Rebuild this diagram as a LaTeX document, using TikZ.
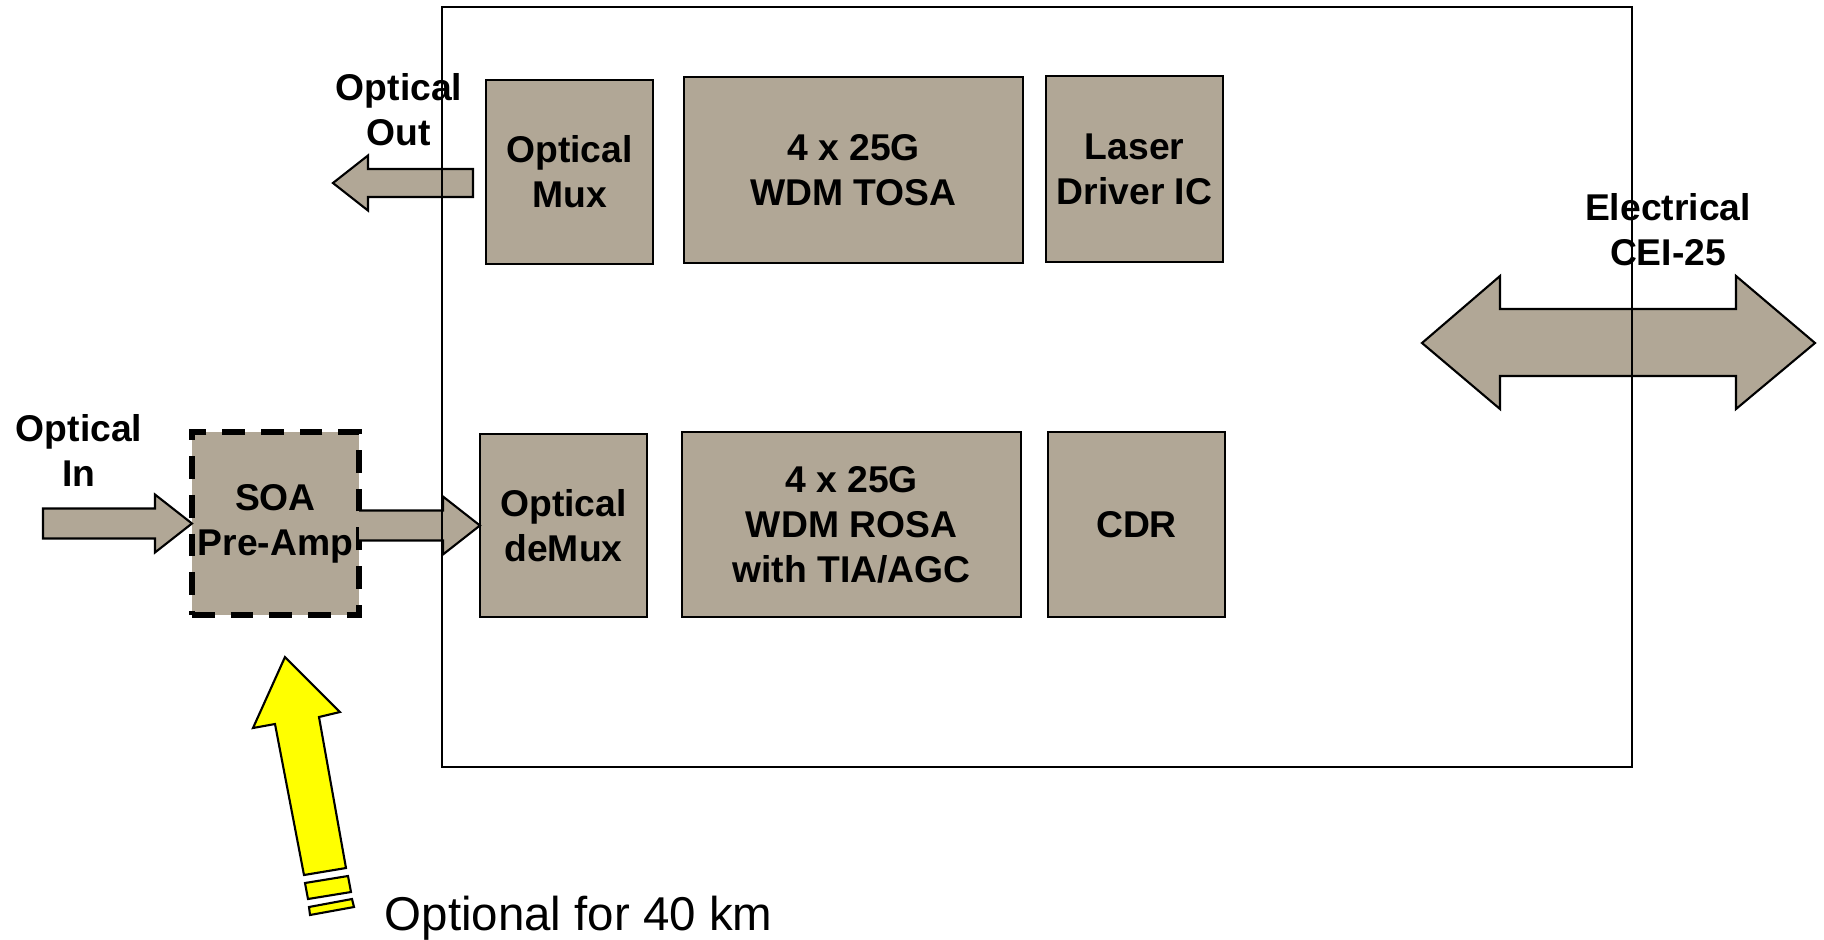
\documentclass[tikz,border=0pt]{standalone}
\usepackage{fontspec}
\setmainfont{Liberation Sans}
\usetikzlibrary{calc}
\definecolor{boxtan}{RGB}{177,167,150}
\definecolor{yel}{RGB}{255,255,0}
\begin{document}
\begin{tikzpicture}[x=0.01cm,y=-0.01cm,
  blk/.style={draw=black, fill=boxtan, line width=0.6pt, inner sep=0pt, outer sep=0pt,
    align=center, font=\bfseries\fontsize{10.6}{12.8}\selectfont},
  barrow/.style={draw=black, fill=boxtan, line width=0.6pt, line join=miter},
  yarrow/.style={draw=black, fill=yel, line width=0.6pt, line join=miter},
  lbl/.style={inner sep=0pt, align=center, font=\bfseries\fontsize{10.6}{12.8}\selectfont},
  soabox/.style={blk, dash pattern=on 6.5pt off 4.5pt, line width=1.5pt}]
\useasboundingbox (0,0) rectangle (1824,939);

% boxes
\node[blk, minimum width=1.67cm, minimum height=1.84cm] (mux) at (569.5,172) {Optical\\Mux};
\node[blk, minimum width=3.39cm, minimum height=1.86cm] (tosa) at (853.5,170) {4 x 25G\\WDM TOSA};
\node[blk, minimum width=1.77cm, minimum height=1.86cm] (ldrv) at (1134.5,169) {Laser\\Driver IC};
\node[blk, minimum width=1.67cm, minimum height=1.83cm] (demux) at (563.5,525.5) {Optical\\deMux};
\node[blk, minimum width=3.39cm, minimum height=1.85cm] (rosa) at (851.5,524.5) {4 x 25G\\WDM ROSA\\with TIA/AGC};
\node[blk, minimum width=1.77cm, minimum height=1.85cm] (cdr) at (1136.5,524.5) {CDR};
\node[soabox, minimum width=1.67cm, minimum height=1.83cm] (soa) at (275.5,523.5) {SOA\\Pre-Amp};

% labels
\node[lbl] (outlbl) at (399,110) {Optical\\Out};
\node[lbl] (inlbl) at (79,450) {Optical\\In};
\node[lbl] (ellbl) at (1668,230) {Electrical\\CEI-25};
\node[inner sep=0pt, anchor=base west, font=\fontsize{13.5}{16}\selectfont] (opt) at (384,930) {Optional for 40 km};

% optical in arrow
\coordinate (intip) at (soa.west);
\draw[barrow] ($(intip)+(-149,-15)$) -- ($(intip)+(-37,-15)$) -- ($(intip)+(-37,-29)$) -- (intip)
  -- ($(intip)+(-37,29)$) -- ($(intip)+(-37,15)$) -- ($(intip)+(-149,15)$) -- cycle;

% SOA to demux arrow
\coordinate (st) at (soa.east |- demux.west);
\draw[barrow] ($(st)+(0,-15)$) -- ($(demux.west)+(-37,-15)$) -- ($(demux.west)+(-37,-29)$) -- (demux.west)
  -- ($(demux.west)+(-37,29)$) -- ($(demux.west)+(-37,15)$) -- ($(st)+(0,15)$);

% optical out arrow
\coordinate (os) at ($(mux.west)+(-13,11)$);
\coordinate (otip) at ($(os)+(-140,0)$);
\draw[barrow] ($(os)+(0,-14)$) -- ($(otip)+(35,-14)$) -- ($(otip)+(35,-27.5)$) -- (otip)
  -- ($(otip)+(35,27.5)$) -- ($(otip)+(35,14)$) -- ($(os)+(0,14)$) -- cycle;

% electrical double arrow
\draw[barrow] (1422,343) -- (1500,276) -- (1500,309) -- (1736,309) -- (1736,276) -- (1815,343)
  -- (1736,409) -- (1736,376) -- (1500,376) -- (1500,409) -- cycle;

% yellow arrow
\draw[yarrow] (285,657) -- (340,712) -- (319,717) -- (346,868) -- (304,875) -- (275,724) -- (253,728) -- cycle;
\draw[yarrow] (305,883) -- (348,876) -- (351,892) -- (308,899) -- cycle;
\draw[yarrow] (309,907) -- (352,899) -- (354,907) -- (310,915) -- cycle;

% frame on top
\node[draw=black, line width=0.6pt, inner sep=0pt, minimum width=11.90cm, minimum height=7.60cm] (frame) at (1037,387) {};
\end{tikzpicture}
\end{document}
